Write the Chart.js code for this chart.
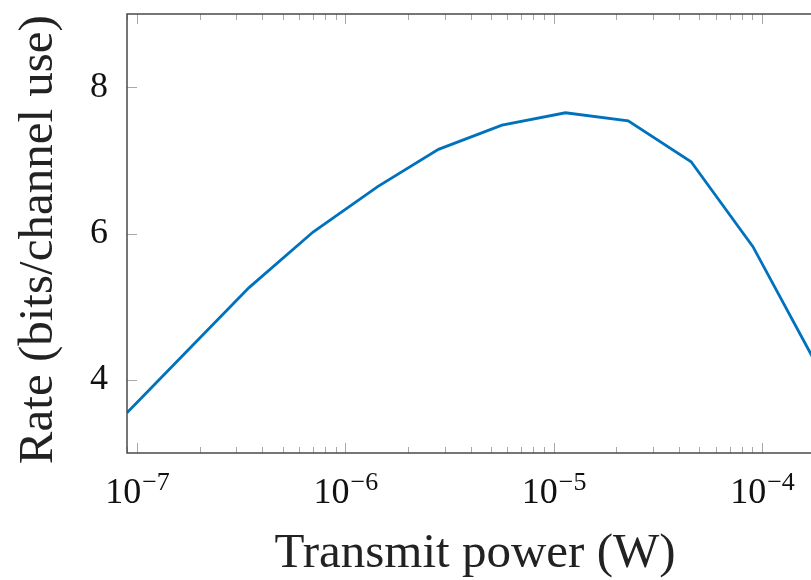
<!DOCTYPE html>
<html>
<head>
<meta charset="utf-8">
<script src="https://cdn.jsdelivr.net/npm/chart.js@4"></script>
<style>
    html, body { margin: 0; padding: 0; overflow: hidden; background: #fff; }
    canvas { display: block; }
</style>
</head>
<body>
<canvas id="rateChart" width="830" height="580"></canvas>
<script>
// transmit power (W) and achieved rate
const powerW = [8.95e-8, 1.75e-7, 3.45e-7, 7.0e-7, 1.43e-6, 2.8e-6, 5.65e-6, 1.14e-5, 2.28e-5, 4.57e-5, 9.05e-5, 1.82e-4];
const rateBits = [3.55, 4.40, 5.26, 6.02, 6.64, 7.15, 7.48, 7.65, 7.54, 6.98, 5.82, 4.22];
const rateTicks = [4, 6, 8];
const powerDecades = [-7, -6, -5, -4];

const serif = "'Liberation Serif', 'Times New Roman', serif";

// frame, inward ticks and 10^n labels
const framePlugin = {
    id: 'frame',
    afterDatasetsDraw(chart) {
        const ctx = chart.ctx;
        const a = chart.chartArea;
        const xs = chart.scales.x;
        const ys = chart.scales.y;

        function seg(x1, y1, x2, y2) {
            ctx.beginPath();
            ctx.moveTo(x1, y1);
            ctx.lineTo(x2, y2);
            ctx.stroke();
        }

        ctx.save();
        ctx.strokeStyle = '#a8a8a8';
        ctx.lineWidth = 1;
        for (let d = -8; d <= -3; d++) {
            for (let m = 1; m <= 9; m++) {
                const v = m * Math.pow(10, d);
                if (v < xs.min || v > xs.max) continue;
                const px = Math.round(xs.getPixelForValue(v)) + 0.5;
                const len = m === 1 ? 10 : 6;
                seg(px, a.bottom, px, a.bottom - len);
                seg(px, a.top, px, a.top + len);
            }
        }
        rateTicks.forEach(function (v) {
            const py = Math.round(ys.getPixelForValue(v)) + 0.5;
            seg(a.left, py, a.left + 10, py);
            seg(a.right, py, a.right - 10, py);
        });

        ctx.strokeStyle = '#4a4a4a';
        ctx.lineWidth = 1.5;
        ctx.strokeRect(a.left, a.top, a.right - a.left, a.bottom - a.top);

        ctx.fillStyle = '#111';
        ctx.textBaseline = 'alphabetic';
        ctx.textAlign = 'left';
        powerDecades.forEach(function (d) {
            const px = xs.getPixelForValue(Math.pow(10, d));
            const base = '10';
            const sup = '\u2212' + Math.abs(d);
            ctx.font = '36px ' + serif;
            const wb = ctx.measureText(base).width;
            ctx.font = '26px ' + serif;
            const ws = ctx.measureText(sup).width;
            const x0 = px - (wb + ws) / 2;
            ctx.font = '36px ' + serif;
            ctx.fillText(base, x0, 503);
            ctx.font = '26px ' + serif;
            ctx.fillText(sup, x0 + wb + 1, 490);
        });
        ctx.restore();
    }
};

const ctx = document.getElementById('rateChart').getContext('2d');
const rateChart = new Chart(ctx, {
    type: 'line',
    data: {
        datasets: [{
            data: powerW.map(function (p, i) { return { x: p, y: rateBits[i] }; }),
            borderColor: '#0072bd',
            borderWidth: 2.8,
            pointRadius: 0,
            tension: 0,
            fill: false
        }]
    },
    options: {
        responsive: false,
        animation: false,
        layout: { padding: { top: 14, right: 7, left: 0, bottom: 0 } },
        plugins: {
            legend: { display: false },
            tooltip: { enabled: false }
        },
        scales: {
            x: {
                type: 'logarithmic',
                min: Math.pow(10, -7.048),
                max: Math.pow(10, -3.707),
                grid: { display: false },
                border: { display: false },
                ticks: { display: false },
                title: {
                    display: true,
                    text: 'Transmit power (W)',
                    color: '#222',
                    font: { family: serif, size: 49, lineHeight: 1 },
                    padding: { top: 0, bottom: 1 }
                },
                afterFit: function (scale) {
                    scale.height = 127;
                    scale.paddingLeft = 0;
                    scale.paddingRight = 0;
                }
            },
            y: {
                min: 3,
                max: 9,
                grid: { display: false, drawTicks: false },
                border: { display: false },
                afterBuildTicks: function (scale) {
                    scale.ticks = rateTicks.map(function (v) { return { value: v }; });
                },
                ticks: {
                    color: '#111',
                    padding: 19,
                    font: { family: serif, size: 36 }
                },
                title: {
                    display: true,
                    text: 'Rate (bits/channel use) ',
                    color: '#222',
                    font: { family: serif, size: 49, lineHeight: 1 },
                    padding: { top: 15, bottom: 0 }
                },
                afterFit: function (scale) {
                    scale.width = 127;
                    scale.paddingTop = 0;
                    scale.paddingBottom = 0;
                }
            }
        }
    },
    plugins: [framePlugin]
});
</script>
</body>
</html>
